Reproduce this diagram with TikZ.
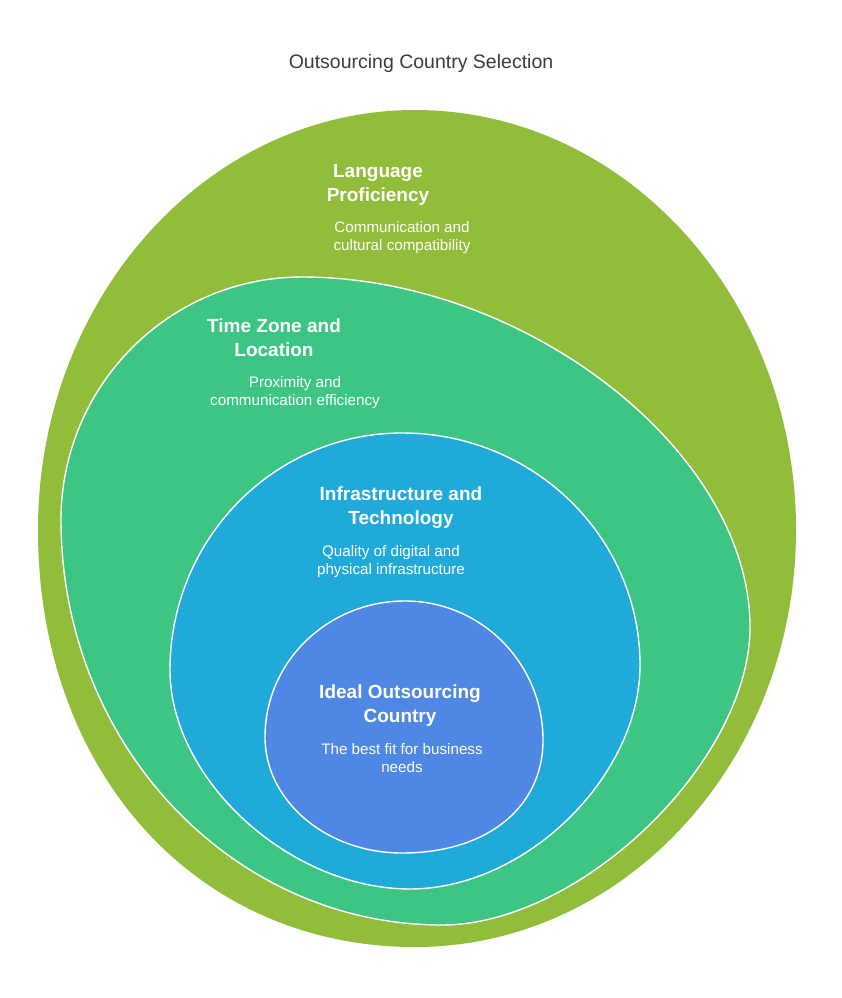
\documentclass[tikz,border=0pt]{standalone}
\usepackage{fontspec}
\setmainfont{Liberation Sans}
\definecolor{langgreen}{HTML}{92BD3A}
\definecolor{zoneteal}{HTML}{3DC584}
\definecolor{infrablue}{HTML}{1FAAD9}
\definecolor{idealblue}{HTML}{4E88E4}
\definecolor{titlegray}{HTML}{3C3C3C}
\tikzset{
  layer/.style = {fill=#1, draw=white, line width=1.4pt},
  hd/.style    = {font=\fontsize{19}{24}\selectfont\bfseries, text=white, align=center, inner sep=0pt},
  txt/.style   = {font=\fontsize{15.2}{18}\selectfont, text=white, align=center, inner sep=0pt},
}

\begin{document}
\begin{tikzpicture}[x=1pt, y=-1pt]
  \useasboundingbox (0,0) rectangle (842,998);

  \node[font=\fontsize{19.5}{23}\selectfont, text=titlegray, inner sep=0pt] (title) at (421,63)
    {Outsourcing Country Selection};

  % the four nested regions, outermost first (top, right, bottom, left)
  \fill[langgreen] (415,110) .. controls (625.3,110) and (796,298.2) .. (796,530)
    .. controls (796,760.2) and (625.3,947) .. (415,947)
    .. controls (196.3,947) and (38,771.9) .. (38,530)
    .. controls (38,298.2) and (206.9,110) .. cycle;
  \draw[layer=zoneteal] (302,277) .. controls (526,277) and (750,452) .. (750,627)
    .. controls (750,761.1) and (580.6,925) .. (442,925)
    .. controls (231.7,925) and (61,743.6) .. (61,520)
    .. controls (61,385.9) and (169,277) .. cycle;
  \draw[layer=infrablue] (402,433) .. controls (533.4,433) and (640,536.9) .. (640,665)
    .. controls (640,777) and (525,889) .. (410,889)
    .. controls (290,889) and (170,779.5) .. (170,670)
    .. controls (170,539.2) and (273.9,433) .. cycle;
  \draw[layer=idealblue] (405,601) .. controls (481.2,601) and (543,663.3) .. (543,740)
    .. controls (543,807.8) and (486.6,853) .. (402,853)
    .. controls (326.4,853) and (265,801) .. (265,737)
    .. controls (265,661.9) and (327.7,601) .. cycle;

  % labels
  \node[hd]  (langhd)   at (378,185) {Language\\Proficiency};
  \node[txt] (langtxt)  at (402,238) {Communication and\\cultural compatibility};
  \node[hd]  (zonehd)   at (274,338) {Time Zone and\\Location};
  \node[txt] (zonetxt)  at (295,393) {Proximity and\\communication efficiency};
  \node[hd]  (infrahd)  at (401,508) {Infrastructure and\\Technology};
  \node[txt] (infratxt) at (391,562) {Quality of digital and\\physical infrastructure};
  \node[hd]  (idealhd)  at (400,706) {Ideal Outsourcing\\Country};
  \node[txt] (idealtxt) at (402,758) {The best fit for business\\needs};
\end{tikzpicture}
\end{document}
